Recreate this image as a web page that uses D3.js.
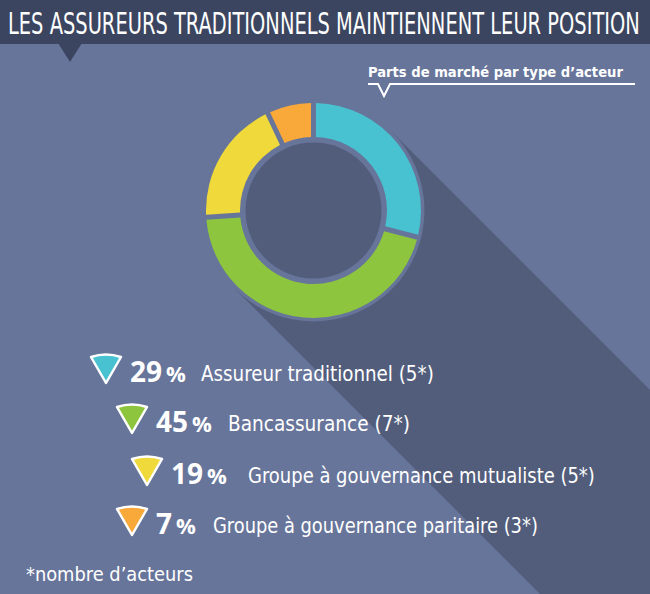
<!DOCTYPE html>
<html><head><meta charset="utf-8">
<script src="https://cdn.jsdelivr.net/npm/d3@7"></script>
<style>body{margin:0;background:#67759a}svg{display:block}</style>
</head><body><svg id="c" width="650" height="594"></svg>
<script>
const title = "LES ASSUREURS TRADITIONNELS MAINTIENNENT LEUR POSITION";
const subtitle = "Parts de marché par type d’acteur";
const footnote = "*nombre d’acteurs";
const categories = ["Assureur traditionnel", "Bancassurance", "Groupe à gouvernance mutualiste", "Groupe à gouvernance paritaire"];
const shares = [29, 45, 19, 7];
const actorCounts = [5, 7, 5, 3];
const colors = ["#48c2d0", "#8dc53f", "#f0d93b", "#f9a83a"];

const W = 650, H = 594;
const BG = "#67759a", DARK = "#3b4560", SHADOW = "#525d7b";
const svg = d3.select("#c");
svg.append("rect").attr("width", W).attr("height", H).attr("fill", BG);

// fit a text to a given width by horizontal scaling
function fitText(sel, x, y, width) {
  const w = sel.node().getComputedTextLength();
  const k = width / w;
  sel.attr("x", 0).attr("y", 0).attr("transform", `translate(${x},${y}) scale(${k},1)`);
  return sel;
}

// Donut geometry
const cx = 313.5, cy = 210.5, outerR = 107.5, innerR = 73.5, holeR = 68, haloR = 111;

// long shadow
const s = Math.SQRT1_2, L = 1000;
const p1 = [cx + haloR * s, cy - haloR * s], p2 = [cx - haloR * s, cy + haloR * s];
svg.append("path")
  .attr("d", `M${p1}L${p1[0] + L},${p1[1] + L}L${p2[0] + L},${p2[1] + L}L${p2}Z`)
  .attr("fill", SHADOW);
svg.append("circle").attr("cx", cx).attr("cy", cy).attr("r", haloR).attr("fill", BG);

// header
svg.append("rect").attr("width", W).attr("height", 44).attr("fill", DARK);
svg.append("path").attr("d", "M58,43L82,43L70,62Z").attr("fill", DARK);
fitText(svg.append("text").text(title)
  .attr("fill", "#fff").attr("font-family", "'DejaVu Sans Condensed',sans-serif")
  .attr("font-size", 31), 8, 33.5, 632);

// subtitle
fitText(svg.append("text").text(subtitle)
  .attr("fill", "#fff").attr("font-family", "'DejaVu Sans Condensed',sans-serif").attr("font-weight", "bold")
  .attr("font-size", 14.5), 368, 77, 255);
svg.append("path").attr("d", "M368,84L378,84L384,96L390,84L635,84")
  .attr("fill", "none").attr("stroke", "#fff").attr("stroke-width", 2);

// donut
const pie = d3.pie().sort(null).value(d => d)(shares);
const arc = d3.arc().innerRadius(innerR).outerRadius(outerR).padAngle(5 / outerR).padRadius(outerR);
const g = svg.append("g").attr("transform", `translate(${cx},${cy})`);
g.selectAll("path").data(pie).join("path").attr("d", arc).attr("fill", (d, i) => colors[i]);
g.append("circle").attr("r", holeR).attr("fill", SHADOW);

// legend
const rowIndent = [0, 26, 41, 26];
const rowY = [383, 433, 485, 535];
const numFont = "'Open Sans',sans-serif";
const labFont = "'DejaVu Sans Condensed',sans-serif";
const labelStart = [201, 228, 248, 213];
const labelWidth = [233, 182, 347, 325];
categories.forEach((cat, i) => {
  const x = 90 + rowIndent[i], y = rowY[i];
  const row = svg.append("g");
  row.append("path")
    .attr("d", `M${x + 1},${y - 26}Q${x + 16},${y - 31} ${x + 31},${y - 26}L${x + 16},${y}Z`)
    .attr("fill", colors[i]).attr("stroke", "#fff").attr("stroke-width", 2.5).attr("stroke-linejoin", "round");
  const t = row.append("text").attr("x", x + 40).attr("y", y - 1).attr("fill", "#fff")
    .attr("font-family", numFont).attr("font-weight", "bold");
  t.append("tspan").attr("font-size", 28).text(shares[i]);
  t.append("tspan").attr("font-size", 22).attr("dx", 4).text("%");
  fitText(row.append("text").attr("fill", "#fff")
    .attr("font-family", labFont).attr("font-size", 21)
    .text(`${cat} (${actorCounts[i]}*)`), labelStart[i], y - 2, labelWidth[i]);
});

fitText(svg.append("text").text(footnote).attr("fill", "#fff")
  .attr("font-family", labFont).attr("font-size", 20), 26, 581, 167);
</script></body></html>
